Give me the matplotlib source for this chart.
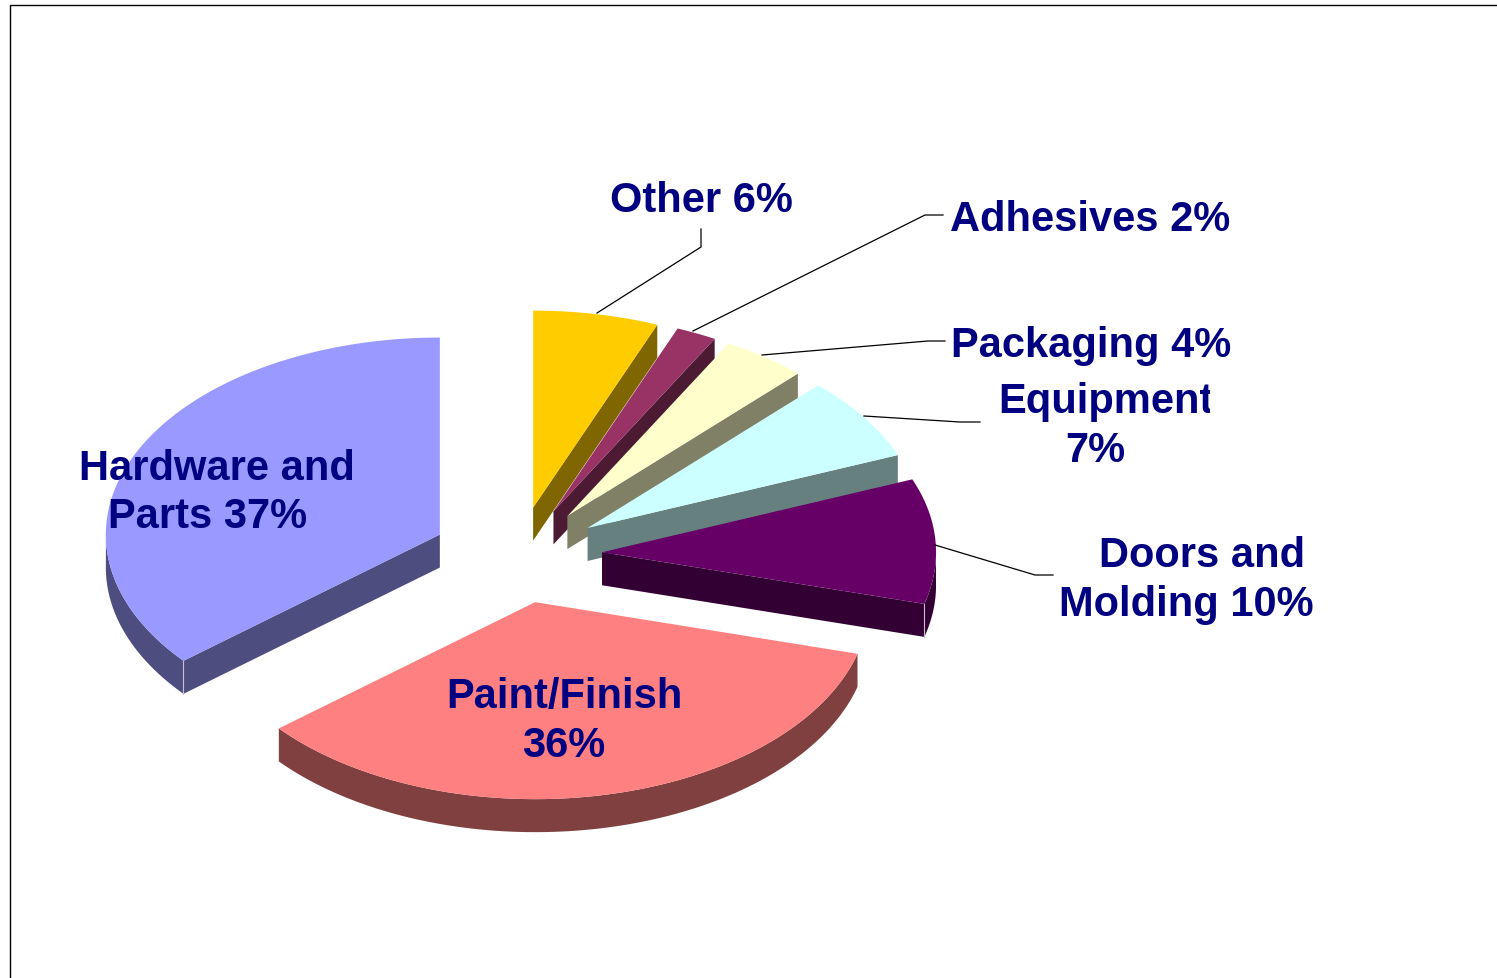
import numpy as np
import matplotlib
matplotlib.use("Agg")
import matplotlib.pyplot as plt
from matplotlib.transforms import Bbox

# Data (estimated shares; the labels show the rounded percentages)
categories = ["Other", "Adhesives", "Packaging", "Equipment",
              "Doors and Molding", "Paint/Finish", "Hardware and Parts"]
values = [6.2, 2.0, 4.2, 7.0, 10.49, 35.5, 36.9]
tops = ["#FFCC00", "#993366", "#FFFFCC", "#CCFFFF", "#660066", "#FF8080", "#9999FF"]
walls = ["#806600", "#4D1A33", "#808066", "#668080", "#330033", "#804040", "#4D4D80"]

# label lines: text, left x, baseline y
label_lines = [
    ("Other 6%", 610, 212), ("Adhesives 2%", 950, 231), ("Packaging 4%", 951, 357),
    ("Equipment", 998, 413), ("7%", 1065, 462), ("Doors and", 1099, 567),
    ("Molding 10%", 1059, 616), ("Hardware and", 79, 480), ("Parts 37%", 108, 528),
    ("Paint/Finish", 446, 708), ("36%", 522, 757),
]
clip_right = {"Equipment": 1210, "Hardware and": 355}
leaders = [
    [(597, 314), (701, 248), (701, 230)],
    [(693, 332), (925, 216), (943, 216)],
    [(762, 356), (928, 342), (945, 342)],
    [(864, 417), (960, 423), (980, 423)],
    [(935, 546), (1035, 576), (1053, 576)],
]

# Pie projection
CX, CY, RX, RY, DEPTH = 517, 556, 334, 197, 33
EXPLODE_X, EXPLODE_Y = 0.255, 0.245

W, H = 1497, 979
fig = plt.figure(figsize=(W / 100, H / 100), dpi=100, facecolor="white")
ax = fig.add_axes([0, 0, 1, 1])
ax.set_xlim(0, W)
ax.set_ylim(H, 0)
ax.axis("off")


def project(theta):
    return RX * np.sin(theta), -RY * np.cos(theta)


fractions = np.array(values) / np.sum(values) * 2 * np.pi
ends = np.cumsum(fractions)
starts = ends - fractions
order = [0, 1, 2, 3, 6, 4, 5]

for i in order:
    a0, a1 = starts[i], ends[i]
    mid = (a0 + a1) / 2
    ox, oy = project(mid)
    ax0, ay0 = CX + EXPLODE_X * ox, CY + EXPLODE_Y * oy
    th = np.linspace(a0, a1, 160)
    px, py = project(th)
    px, py = px + ax0, py + ay0
    kw = dict(color=walls[i], lw=0, zorder=order.index(i) * 3 + 1)
    # visible cut faces
    for a, visible in ((a0, a0 > np.pi), (a1, a1 < np.pi)):
        if visible:
            ex, ey = project(a)
            ex, ey = ex + ax0, ey + ay0
            ax.fill([ax0, ex, ex, ax0], [ay0, ey, ey + DEPTH, ay0 + DEPTH], **kw)
    # visible part of the outer rim
    front = np.cos(th) <= 0.02
    if front.any():
        rx_, ry_ = px[front], py[front]
        ax.fill(np.r_[rx_, rx_[::-1]], np.r_[ry_, ry_[::-1] + DEPTH], **kw)
    ax.fill(np.r_[ax0, px], np.r_[ay0, py], color=tops[i], lw=0,
            zorder=order.index(i) * 3 + 2)
    # pale seam on the corner between cut face and rim
    for a, visible in ((a0, a0 > np.pi), (a1, a1 < np.pi)):
        if visible and np.cos(a) < 0:
            ex, ey = project(a)
            ax.plot([ex + ax0] * 2, [ey + ay0, ey + ay0 + DEPTH], color="#C8C0D0",
                    lw=0.8, zorder=order.index(i) * 3 + 3)

for pts in leaders:
    xs, ys = zip(*pts)
    ax.plot(xs, ys, color="black", lw=0.9, zorder=40, solid_joinstyle="miter")

ax.plot([10, 10, W], [H, 6, 6], color="black", lw=1.0, zorder=41,
        solid_joinstyle="miter", solid_capstyle="butt")

for text, x, y in label_lines:
    t = ax.text(x, y, text, family="Liberation Sans", weight="bold", fontsize=30,
                color="#000080", ha="left", va="baseline", zorder=50)
    if text in clip_right:
        t.set_clip_on(True)
        t.set_clip_box(Bbox([[0, 0], [clip_right[text], H]]))

fig.savefig("out.png", dpi=100, facecolor="white")
